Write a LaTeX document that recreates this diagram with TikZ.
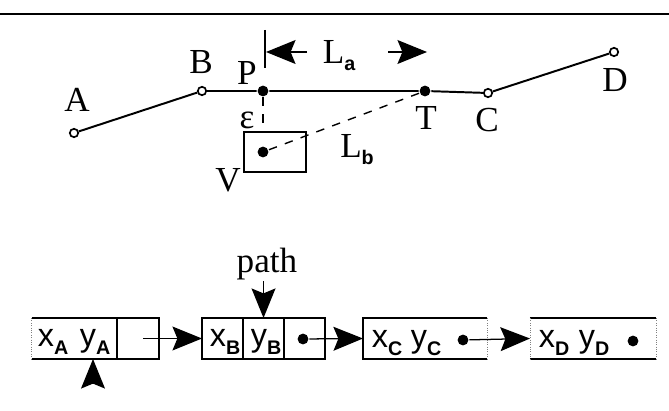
\documentclass[tikz,border=0pt]{standalone}
\usepackage{fontspec}
\setmainfont{Liberation Serif}
\newfontfamily\cellfont{Liberation Sans}
\usetikzlibrary{arrows.meta, positioning}
\newcommand{\lowsub}[1]{\raisebox{-5pt}{\cellfont\fontsize{14}{14}\selectfont\bfseries #1}}

\begin{document}
\begin{tikzpicture}[x=0.025cm, y=-0.025cm, line width=1.4pt,
        vert/.style={circle, draw, fill=white, line width=1.2pt, inner sep=0pt, minimum size=0.21cm},
        dot/.style={circle, fill=black, inner sep=0pt, minimum size=0.27cm},
        lbl/.style={font=\fontsize{25}{28}\selectfont, inner sep=0pt},
        cell/.style={rectangle, inner sep=0pt, outer sep=0pt, minimum height=1.025cm},
        boxed/.style={cell, draw},
        field/.style={font=\cellfont\fontsize{23}{26}\selectfont, inner sep=0pt},
        ptr/.style={-{Stealth[length=21pt, width=17pt, inset=3.5pt]}, line width=0.9pt},
        guide/.style={dash pattern=on 6pt off 6pt, line width=1pt},
        gap/.style={densely dotted, line width=0.7pt, gray}]
    \useasboundingbox (0,0) rectangle (669,411);

    % Linea superior
    \draw[line width=1.5pt] (0,14) -- (669,14);

    % Poligonal
    \node[vert] (A) at (74,133) {};
    \node[vert] (B) at (202,91) {};
    \node[dot] (P) at (263,91) {};
    \node[dot] (T) at (425,91) {};
    \node[vert] (C) at (488,93) {};
    \node[vert] (D) at (614,52) {};
    \draw (A) -- (B) -- (P) -- (T) -- (C) -- (D);

    \node[lbl] (lA) at (77,100) {A};
    \node[lbl] (lB) at (201,62) {B};
    \node[lbl] (lP) at (247,73) {P};
    \node[lbl] (lT) at (426,118) {T};
    \node[lbl] (lC) at (487,120) {C};
    \node[lbl] (lD) at (615,80) {D};

    % Ventana V
    \node[draw, rectangle, minimum width=1.55cm, minimum height=1cm, inner sep=0pt, line width=1.2pt] (win) at (275,152) {};
    \node[dot] (v) at (263,152) {};
    \node[lbl] (lV) at (228,180) {V};
    \node[lbl] (leps) at (247,120) {ε};
    \draw[guide] (P) -- (P |- win.north);
    \draw[guide] (v) -- (T);
    \node[lbl] (Lb) at (357,150) {L\lowsub{b}};

    % Distancia L_a
    \draw (265,30) -- (265,68);
    \node[lbl] (La) at (339,56) {L\lowsub{a}};
    \draw[ptr] (307,52) -- (266,52);
    \draw[ptr] (388,52) -- (427,52);

    % Lista enlazada
    \node[cell, minimum width=2.125cm] (a1) at (74.5,338.5) {};
    \node[boxed, minimum width=1.05cm, right=0pt of a1] (a2) {};
    \draw (a1.north west) -- (a1.north east) (a1.south west) -- (a1.south east);
    \draw[gap] (a1.north west) -- (a1.south west);
    \node[field, anchor=base west] (xA) at (37,347) {x\lowsub{A}};
    \node[field, anchor=base west] (yA) at (79,347) {y\lowsub{A}};
    \coordinate (a2p) at (143,338.5);

    \node[boxed, minimum width=1.025cm] (b1) at (222.5,338.5) {};
    \node[boxed, minimum width=1.025cm, right=0pt of b1] (b2) {};
    \node[boxed, minimum width=1.025cm, right=0pt of b2] (b3) {};
    \node[field, anchor=base west] (xB) at (209,347) {x\lowsub{B}};
    \node[field, anchor=base west] (yB) at (250,347) {y\lowsub{B}};
    \node[dot] (bp) at (303,339) {};

    \node[cell, minimum width=3.1cm] (c) at (425,338.5) {};
    \draw (c.north east) -- (c.north west) -- (c.south west) -- (c.south east);
    \draw[gap] (c.north east) -- (c.south east);
    \node[field, anchor=base west] (xC) at (371,348) {x\lowsub{C}};
    \node[field, anchor=base west] (yC) at (410,348) {y\lowsub{C}};
    \node[dot] (cp) at (463,340) {};

    \node[cell, minimum width=3.15cm] (d) at (593,338.5) {};
    \draw (d.north west) -- (d.north east) (d.south west) -- (d.south east);
    \draw[gap] (d.north west) -- (d.south west) (d.north east) -- (d.south east);
    \node[field, anchor=base west] (xD) at (538,348) {x\lowsub{D}};
    \node[field, anchor=base west] (yD) at (578,348) {y\lowsub{D}};
    \node[dot] (dp) at (633,341) {};

    \draw[ptr] (a2p) -- (b1.west);
    \draw[ptr] (bp) -- (c.west);
    \draw[ptr] (cp) -- (d.west);

    % Punteros externos
    \node[lbl, anchor=base] (path) at (267,273) {path};
    \draw[ptr] (b2.north |- path.south) -- (b2.north);
    \coordinate (upA) at (93,383);
    \draw[ptr] (upA) -- (upA |- a1.south);
\end{tikzpicture}
\end{document}
